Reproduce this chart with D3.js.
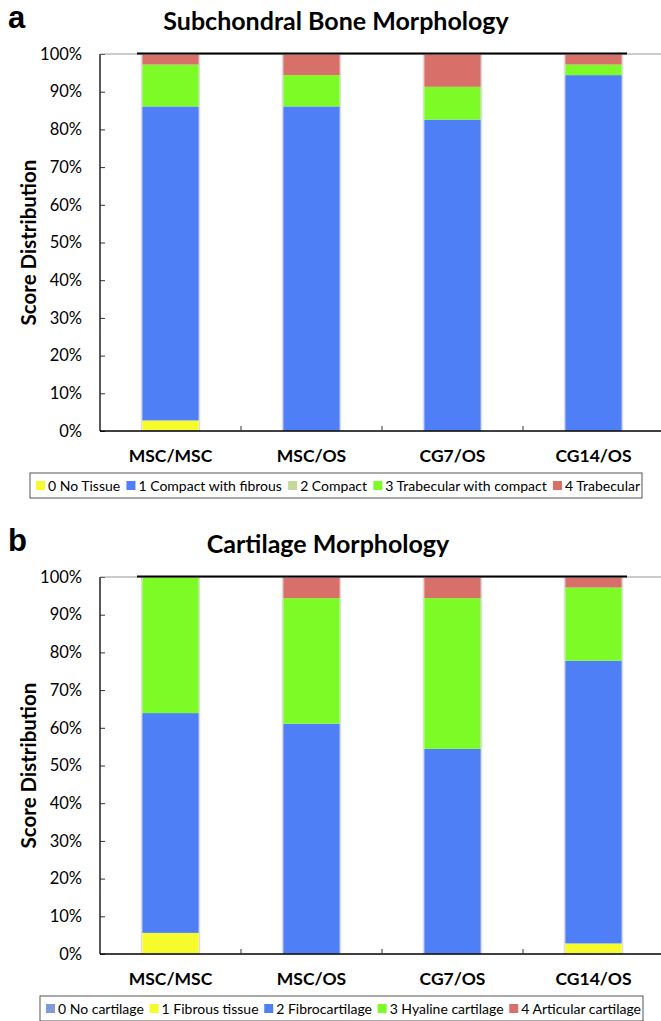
<!DOCTYPE html>
<html>
<head>
<meta charset="utf-8">
<script src="https://cdn.jsdelivr.net/npm/d3@7"></script>
<style>
  body { margin: 0; background: #fff; }
  svg { display: block; }
  text { font-family: Lato, "Open Sans", sans-serif; fill: #000; }
</style>
</head>
<body>
<div class="container"></div>
<script>
var categories = ["MSC/MSC", "MSC/OS", "CG7/OS", "CG14/OS"],
	yTicks = [0, 10, 20, 30, 40, 50, 60, 70, 80, 90, 100];

// panel a - subchondral bone, percent of samples per score
var boneLabels = ["0 No Tissue", "1 Compact with fibrous", "2 Compact", "3 Trabecular with compact", "4 Trabecular"],
	bone0 = [2.8, 0, 0, 0],
	bone1 = [83.3, 86.1, 82.6, 94.4],
	bone2 = [0, 0, 0, 0],
	bone3 = [11.1, 8.3, 8.7, 2.8],
	bone4 = [2.8, 5.6, 8.7, 2.8];

// panel b - cartilage
var cartLabels = ["0 No cartilage", "1 Fibrous tissue", "2 Fibrocartilage", "3 Hyaline cartilage", "4 Articular cartilage"],
	cart0 = [0, 0, 0, 0],
	cart1 = [5.6, 0, 0, 2.8],
	cart2 = [58.3, 61.1, 54.4, 75.0],
	cart3 = [36.1, 33.3, 40.0, 19.4],
	cart4 = [0, 5.6, 5.6, 2.8];

var boneColors = ["#f6fb2c", "#4f7ff7", "#c4d89a", "#7dfb27", "#d8706a"],
	cartColors = ["#7f9cd8", "#f6fb2c", "#4f7ff7", "#7dfb27", "#d8706a"];

var WIDTH = 661,
	HEIGHT = 1021,
	LEFT = 100,
	RIGHT = 664,
	PANEL = 523;

function translate(x, y) {
	return 'translate(' + x + ',' + y + ')';
}

var svg = d3.select('.container').append('svg')
	.attr('width', WIDTH)
	.attr('height', HEIGHT);

function drawPanel(opts) {
	var g = svg.append('g').attr('transform', translate(0, opts.offset));

	var rows = categories.map(function(c, i) {
		var r = {cat: c};
		opts.series.forEach(function(s, k) { r['s' + k] = s[i]; });
		return r;
	});
	var keys = opts.series.map(function(s, k) { return 's' + k; });
	var stacked = d3.stack().keys(keys)(rows);

	var x = d3.scaleBand()
		.domain(categories)
		.range([LEFT, RIGHT])
		.paddingInner(0.6)
		.paddingOuter(0.3);

	var y = d3.scaleLinear()
		.domain([0, 100])
		.range([431, 54]);

	// panel letter + title
	g.append('text')
		.attr('x', 8).attr('y', 28)
		.style('font-family', '"Liberation Sans", Arial, sans-serif')
		.style('font-weight', 'bold')
		.style('font-size', '31px')
		.text(opts.letter);

	g.append('text')
		.attr('x', opts.titleX).attr('y', 30)
		.attr('text-anchor', 'middle')
		.style('font-weight', 'bold')
		.style('font-size', '25px')
		.text(opts.title);

	// bars
	g.selectAll('.layer')
		.data(stacked).enter()
		.append('g')
		.attr('fill', function(d, i) { return opts.colors[i]; })
		.selectAll('rect')
		.data(function(d) { return d; }).enter()
		.append('rect')
		.attr('x', function(d) { return x(d.data.cat); })
		.attr('width', x.bandwidth())
		.attr('y', function(d) { return y(d[1]); })
		.attr('height', function(d) { return y(d[0]) - y(d[1]); });

	// faint grey edges on bar sides
	g.selectAll('.edge')
		.data(categories).enter()
		.append('rect')
		.attr('x', function(d) { return x(d) - 1; })
		.attr('y', y(100))
		.attr('width', x.bandwidth() + 2)
		.attr('height', y(0) - y(100))
		.attr('fill', 'none')
		.attr('stroke', '#d4d4d4')
		.attr('stroke-width', 1);

	// y axis
	var yAxis = d3.axisLeft(y)
		.tickValues(yTicks)
		.tickSize(-5)
		.tickPadding(18)
		.tickFormat(function(d) { return d + '%'; });

	var yg = g.append('g')
		.attr('transform', translate(LEFT, 0))
		.call(yAxis);
	yg.select('.domain').remove();
	yg.selectAll('line').attr('stroke', '#333');
	yg.selectAll('text')
		.style('font-family', 'Lato, sans-serif')
		.style('font-size', '16.5px');

	// frame lines
	g.append('line')
		.attr('x1', LEFT).attr('x2', LEFT)
		.attr('y1', y(100)).attr('y2', y(0))
		.attr('stroke', '#222').attr('stroke-width', 1.5);
	g.append('line')
		.attr('x1', LEFT).attr('x2', WIDTH)
		.attr('y1', y(100)).attr('y2', y(100))
		.attr('stroke', '#999').attr('stroke-width', 1);
	g.append('line')
		.attr('x1', 137).attr('x2', 627)
		.attr('y1', y(100) - 0.5).attr('y2', y(100) - 0.5)
		.attr('stroke', '#000').attr('stroke-width', 2);

	// x axis: labels from axis, boundary ticks drawn inward
	var xAxis = d3.axisBottom(x)
		.tickSize(0)
		.tickPadding(19);
	var xg = g.append('g')
		.attr('transform', translate(0, y(0)))
		.call(xAxis);
	xg.select('.domain').remove();
	xg.selectAll('text')
		.style('font-family', 'Lato, sans-serif')
		.style('font-weight', 'bold')
		.style('font-size', '17.5px');

	g.append('line')
		.attr('x1', LEFT).attr('x2', WIDTH)
		.attr('y1', y(0)).attr('y2', y(0))
		.attr('stroke', '#000').attr('stroke-width', 1.5);

	var half = (x.step() - x.bandwidth()) / 2;
	g.selectAll('.xtick')
		.data(categories.slice(1)).enter()
		.append('line')
		.attr('x1', function(d) { return x(d) - half; })
		.attr('x2', function(d) { return x(d) - half; })
		.attr('y1', y(0)).attr('y2', y(0) - 5)
		.attr('stroke', '#333');

	// axis title
	g.append('text')
		.attr('transform', translate(36, (y(0) + y(100)) / 2) + ' rotate(-90)')
		.attr('text-anchor', 'middle')
		.style('font-weight', 'bold')
		.style('font-size', '20.5px')
		.text('Score Distribution');

	// legend
	var lg = g.append('g');
	lg.append('rect')
		.attr('x', opts.legendX0).attr('y', 473)
		.attr('width', opts.legendX1 - opts.legendX0).attr('height', 25)
		.attr('fill', '#fff')
		.attr('stroke', '#555').attr('stroke-width', 1);

	var items = lg.selectAll('.item')
		.data(opts.labels).enter()
		.append('g');
	items.append('rect')
		.attr('width', 9).attr('height', 9)
		.attr('y', 481)
		.attr('fill', function(d, i) { return opts.colors[i]; });
	var labels = items.append('text')
		.attr('x', 12).attr('y', 491)
		.style('font-size', '15px')
		.text(function(d) { return d; });

	// shrink the legend font until everything fits inside the box
	var span = opts.legendX1 - 2 - (opts.legendX0 + 6),
		minGap = 5,
		widths, total, fs = 15;
	function measure() {
		widths = [];
		labels.each(function() { widths.push(12 + this.getComputedTextLength()); });
		total = d3.sum(widths);
	}
	measure();
	while (total + minGap * (widths.length - 1) > span && fs > 9) {
		fs -= 0.25;
		labels.style('font-size', fs + 'px');
		measure();
	}
	var gap = (span - total) / (widths.length - 1),
		cx = opts.legendX0 + 6;
	items.attr('transform', function(d, i) {
		var t = translate(cx, 0);
		cx += widths[i] + gap;
		return t;
	});
}

drawPanel({
	offset: 0,
	letter: 'a',
	title: 'Subchondral Bone Morphology',
	titleX: 336,
	series: [bone0, bone1, bone2, bone3, bone4],
	colors: boneColors,
	labels: boneLabels,
	legendX0: 30,
	legendX1: 642
});

drawPanel({
	offset: PANEL,
	letter: 'b',
	title: 'Cartilage Morphology',
	titleX: 328,
	series: [cart0, cart1, cart2, cart3, cart4],
	colors: cartColors,
	labels: cartLabels,
	legendX0: 40,
	legendX1: 643
});
</script>
</body>
</html>
